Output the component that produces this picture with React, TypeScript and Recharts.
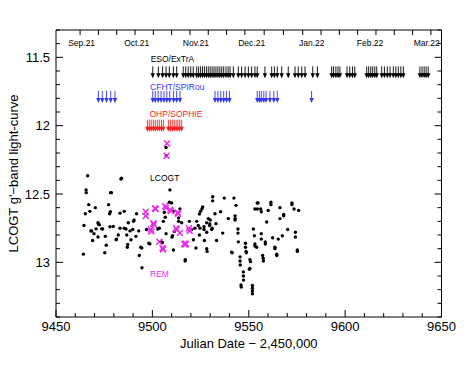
import React from 'react';
import { ScatterChart, Scatter, XAxis, YAxis, ReferenceArea } from 'recharts';

const W = 474;
const H = 366;
const PLOT = { left: 56, right: 441.5, top: 30, bottom: 317 };
const FONT = 'Liberation Sans, Arial, sans-serif';

// ── axis ticks ────────────────────────────────────────────────────────────────
const X_TICKS = [9450, 9460, 9470, 9480, 9490, 9500, 9510, 9520, 9530, 9540, 9550, 9560, 9570, 9580, 9590, 9600, 9610, 9620, 9630, 9640, 9650];
const X_LABELS = [9450, 9500, 9550, 9600, 9650];
const Y_TICKS = [11.3, 11.4, 11.5, 11.6, 11.7, 11.8, 11.9, 12, 12.1, 12.2, 12.3, 12.4, 12.5, 12.6, 12.7, 12.8, 12.9, 13, 13.1, 13.2, 13.3, 13.4];
const Y_LABELS = [11.5, 12, 12.5, 13];
const TOP_TICKS = [9462.5, 9472, 9481.5, 9491, 9500.5, 9510, 9519.5, 9529, 9538.5, 9548, 9558, 9568, 9578, 9587.5, 9597, 9606.5, 9616, 9625.5, 9635, 9644.5];
const MONTH_POS = [9463.3, 9491.9, 9522.6, 9551.5, 9582.7, 9612.9, 9642.3];
const MONTH_NAMES = ['Sep.21', 'Oct.21', 'Nov.21', 'Dec.21', 'Jan.22', 'Feb.22', 'Mar.22'];

// ── observation epochs (JD - 2,450,000) ───────────────────────────────────────
const ESO_JD = [
  9500.2, 9503.1, 9505.3, 9507.1, 9508.8, 9510.9, 9512.6,
  9516, 9517.3, 9518.6, 9519.9, 9521.2,
  9523, 9524, 9525, 9526, 9527, 9528, 9529, 9530, 9531, 9532, 9533, 9534, 9535, 9536, 9537, 9538.2, 9539.3, 9540.3,
  9542, 9544.6, 9546.3, 9548.1, 9549.8, 9551.5, 9553.2, 9554.4, 9558.4, 9561.9, 9563.3, 9564.8, 9567.1, 9570.5,
  9574, 9575.7, 9577.5, 9579.2, 9583.2, 9585.6,
  9593, 9594, 9595.2, 9596.3, 9597.3,
  9601, 9602.4, 9603.8, 9605,
  9611.2, 9612.2, 9613.3, 9614.3, 9615.4, 9616.4,
  9619, 9620.4, 9621.9, 9623.3,
  9625, 9626.3, 9627.6, 9628.9, 9630.2,
  9638.8, 9639.9, 9641, 9642, 9643.1,
];
const CFHT_JD = [
  9472, 9474, 9476.2, 9478.4, 9480.6,
  9500.2, 9501.5, 9503, 9504.5, 9506, 9507.5, 9509, 9511, 9512.6, 9514.3,
  9532.5, 9534, 9535.5, 9537, 9538.5, 9540,
  9554.4, 9555.5, 9556.5, 9557.8, 9559, 9561, 9563, 9564.8,
  9582.6,
];
const OHP_JD = [
  9497.4, 9498.4, 9499.4, 9500.5, 9501.5, 9502.6, 9503.6, 9504.7, 9505.7,
  9508.3, 9509.3, 9510.3, 9511.3, 9512.3, 9513.2, 9514.2, 9515.2,
];
const ESO_MAG = 11.61;
const CFHT_MAG = 11.79;
const OHP_MAG = 12.0;

// ── LCOGT g' photometry [jd, mag] ─────────────────────────────────────────────
const LCOGT: [number, number][] = [
  [9466.4, 12.366], [9465.6, 12.47], [9465.7, 12.49], [9467.0, 12.578], [9465.2, 12.644], [9467.6, 12.627],
  [9470.4, 12.6], [9464.5, 12.73], [9468.1, 12.77], [9468.5, 12.77], [9469.7, 12.79], [9469.0, 12.84],
  [9470.8, 12.755], [9471.8, 12.71], [9472.0, 12.72], [9472.5, 12.725], [9473.7, 12.755], [9471.8, 12.815],
  [9464.2, 12.94], [9478.3, 12.49], [9478.8, 12.49], [9477.3, 12.578], [9478.2, 12.63], [9477.8, 12.645],
  [9475.6, 12.81], [9476.1, 12.875], [9475.3, 12.93], [9474.2, 12.756], [9478.0, 12.74], [9479.7, 12.737],
  [9483.7, 12.39], [9484.0, 12.385], [9483.2, 12.64], [9485.4, 12.627], [9481.4, 12.83], [9481.2, 12.835],
  [9482.3, 12.8], [9483.2, 12.75], [9485.4, 12.75], [9486.3, 12.756], [9487.5, 12.71], [9486.7, 12.8],
  [9487.0, 12.89], [9487.2, 12.87], [9488.4, 12.77], [9488.9, 12.835], [9490.2, 12.7], [9490.5, 12.69],
  [9489.8, 12.76], [9491.8, 12.645], [9492.9, 12.77], [9493.2, 12.95], [9491.5, 12.81], [9494.0, 12.89],
  [9494.5, 12.895], [9494.6, 13.04], [9497.0, 12.76], [9498.2, 12.86], [9498.7, 12.865], [9502.8, 12.756],
  [9503.6, 12.75], [9504.6, 12.85], [9505.2, 12.855], [9505.7, 12.7], [9506.2, 12.635], [9506.7, 12.67],
  [9507.1, 12.16], [9507.2, 12.22], [9507.1, 12.79], [9509.1, 12.47], [9508.8, 12.56], [9510.0, 12.566],
  [9510.9, 12.627], [9510.9, 12.91], [9510.2, 12.815], [9510.5, 12.805], [9511.4, 12.775], [9513.6, 12.7],
  [9513.6, 12.675], [9514.3, 12.61], [9515.2, 12.71], [9517.1, 12.98], [9517.0, 12.99],
  [9519.2, 12.7], [9520.4, 12.76], [9521.3, 12.835], [9522.1, 12.75], [9522.6, 12.895], [9523.0, 12.7],
  [9523.8, 12.73], [9524.4, 12.646], [9524.4, 12.8], [9524.7, 12.75], [9525.0, 12.627], [9525.7, 12.61],
  [9526.1, 12.595], [9526.8, 12.74], [9526.8, 12.76], [9527.0, 12.84], [9528.2, 12.71], [9528.2, 12.78],
  [9528.2, 12.9], [9528.4, 12.92], [9529.0, 12.68], [9530.0, 12.69], [9529.8, 12.72], [9529.7, 12.73],
  [9530.8, 12.76], [9531.0, 12.75], [9531.3, 12.52], [9531.3, 12.55], [9532.5, 12.645], [9533.0, 12.717],
  [9533.3, 12.84], [9535.4, 12.63], [9536.5, 12.786], [9537.3, 12.53], [9539.4, 12.68], [9541.1, 12.925],
  [9541.4, 12.93], [9542.3, 12.53], [9542.9, 12.66], [9542.9, 12.68], [9542.9, 12.69], [9543.4, 12.583],
  [9544.4, 12.756], [9544.4, 12.786], [9544.6, 12.85], [9545.5, 12.96], [9545.5, 12.99], [9545.6, 13.02],
  [9546.0, 13.165], [9546.1, 13.18], [9547.2, 13.07], [9547.2, 13.1], [9547.3, 13.13], [9548.3, 12.86],
  [9548.3, 12.89], [9548.6, 12.92], [9548.8, 12.93], [9550.3, 13.05], [9550.6, 12.98], [9550.9, 12.995],
  [9550.6, 13.045], [9551.9, 13.17], [9551.9, 13.19], [9551.9, 13.21], [9551.9, 13.23], [9552.4, 12.756],
  [9552.9, 12.805], [9553.2, 12.865], [9553.2, 12.88], [9554.1, 12.89], [9554.4, 12.566], [9554.8, 12.565],
  [9553.2, 12.61], [9554.5, 12.61], [9556.2, 12.61], [9556.5, 12.63], [9556.5, 12.79], [9556.5, 12.83],
  [9557.2, 12.95], [9557.5, 12.97], [9557.6, 12.99], [9558.6, 12.85], [9558.6, 12.866], [9559.3, 12.705],
  [9560.1, 12.62], [9561.5, 12.56], [9561.5, 12.578], [9562.4, 12.82], [9563.6, 12.89], [9563.6, 12.9],
  [9564.5, 12.94], [9564.5, 12.95], [9565.3, 12.83], [9566.2, 12.6], [9566.2, 12.68], [9567.4, 12.805],
  [9568.1, 12.65], [9568.1, 12.66], [9570.2, 12.76], [9572.4, 12.566], [9572.4, 12.578], [9573.5, 12.61],
  [9574.2, 12.78], [9574.2, 12.815], [9575.2, 12.91], [9575.2, 12.92], [9575.9, 12.62],
];

// ── REM photometry [jd, mag] ──────────────────────────────────────────────────
const REM: [number, number][] = [
  [9507.6, 12.13], [9507.4, 12.22], [9496.5, 12.63], [9496.6, 12.66], [9501.4, 12.605], [9501.7, 12.61],
  [9506.6, 12.59], [9507.1, 12.6], [9509.3, 12.615], [9509.6, 12.625], [9513.1, 12.635], [9513.4, 12.645],
  [9500.5, 12.715], [9500.8, 12.725], [9499.2, 12.76], [9499.5, 12.775], [9503.6, 12.85], [9505.3, 12.895],
  [9505.6, 12.905], [9512.3, 12.75], [9512.6, 12.76], [9514.3, 12.786], [9516.6, 12.865], [9517.0, 12.87],
  [9517.4, 12.865], [9519.0, 12.75], [9519.3, 12.77],
];

// ── instrument labels ─────────────────────────────────────────────────────────
const NOTES = [
  { jd: 9499.1, mag: 11.512, text: 'ESO/ExTrA', color: '#000000' },
  { jd: 9498.8, mag: 11.715, text: 'CFHT/SPIRou', color: '#3434f4' },
  { jd: 9498.5, mag: 11.915, text: 'OHP/SOPHIE', color: '#f42424' },
  { jd: 9498.8, mag: 12.385, text: 'LCOGT', color: '#000000' },
  { jd: 9498.8, mag: 13.085, text: 'REM', color: '#e82ce8' },
];

const toPts = (rows: [number, number][]) => rows.map(([jd, mag]) => ({ jd, mag }));
const toRow = (jds: number[], mag: number) => jds.map((jd) => ({ jd, mag }));

const near = (a: number, b: number) => Math.abs(a - b) < 1e-6;

function YTick(props: any) {
  const { y, payload } = props;
  const v = payload.value as number;
  const major = Y_LABELS.some((l) => near(l, v));
  const len = major ? 7 : 4;
  return (
    <g>
      <line x1={PLOT.left} x2={PLOT.left + len} y1={y} y2={y} stroke="#000" />
      <line x1={PLOT.right - len} x2={PLOT.right} y1={y} y2={y} stroke="#000" />
      {major && (
        <text x={PLOT.left - 6} y={y} dy={4.5} textAnchor="end" fontSize={13} fontFamily={FONT} fill="#000">
          {String(v)}
        </text>
      )}
    </g>
  );
}

function XTick(props: any) {
  const { x, payload } = props;
  const v = payload.value as number;
  const major = X_LABELS.some((l) => near(l, v));
  const len = major ? 7 : 4;
  return (
    <g>
      <line x1={x} x2={x} y1={PLOT.bottom} y2={PLOT.bottom - len} stroke="#000" />
      {major && (
        <text x={x} y={PLOT.bottom + 14} textAnchor="middle" fontSize={13} fontFamily={FONT} fill="#000">
          {String(v)}
        </text>
      )}
    </g>
  );
}

function TopTick(props: any) {
  const { x, payload } = props;
  const v = payload.value as number;
  const m = MONTH_POS.findIndex((p) => near(p, v));
  if (m >= 0) {
    return (
      <text x={x} y={PLOT.top + 16} textAnchor="middle" fontSize={8.5} fontFamily={FONT} fill="#000">
        {MONTH_NAMES[m]}
      </text>
    );
  }
  return <line x1={x} x2={x} y1={PLOT.top} y2={PLOT.top + 5} stroke="#000" />;
}

function Dot(props: any) {
  const { cx, cy } = props;
  return <circle cx={cx} cy={cy} r={1.7} fill="#000" />;
}

function Cross(props: any) {
  const { cx, cy } = props;
  const s = 3;
  return (
    <g stroke="#e82ce8" strokeWidth={1.5}>
      <line x1={cx - s} y1={cy - s} x2={cx + s} y2={cy + s} />
      <line x1={cx - s} y1={cy + s} x2={cx + s} y2={cy - s} />
    </g>
  );
}

const arrow = (color: string) => (props: any) => {
  const { cx, cy } = props;
  return (
    <g>
      <line x1={cx} y1={cy - 6} x2={cx} y2={cy + 3} stroke={color} strokeWidth={0.9} />
      <polygon points={`${cx - 2.2},${cy + 1} ${cx + 2.2},${cy + 1} ${cx},${cy + 6}`} fill={color} />
    </g>
  );
};

function Note(props: any) {
  const { cx, cy, payload } = props;
  return (
    <text x={cx} y={cy} dy={3} fontSize={8.5} fontFamily={FONT} fill={payload.color}>
      {payload.text}
    </text>
  );
}

export default function App() {
  const topTicks = [...TOP_TICKS, ...MONTH_POS].sort((a, b) => a - b);
  return (
    <div style={{ position: 'absolute', left: 0, top: 0, width: W, height: H, background: '#fff' }}>
      <ScatterChart width={W} height={H} margin={{ top: PLOT.top - 1, right: W - PLOT.right, bottom: 0, left: 0 }}>
        <XAxis
          dataKey="jd"
          type="number"
          domain={[9450, 9650]}
          ticks={X_TICKS}
          interval={0}
          height={H - PLOT.bottom}
          axisLine={false}
          tickLine={false}
          tick={<XTick />}
          allowDataOverflow
          label={{ value: 'Julian Date − 2,450,000', position: 'insideBottom', offset: 18, fontSize: 13, fontFamily: FONT, fill: '#000' }}
        />
        <XAxis
          xAxisId="top"
          orientation="top"
          dataKey="jd"
          type="number"
          domain={[9450, 9650]}
          ticks={topTicks}
          interval={0}
          height={1}
          axisLine={false}
          tickLine={false}
          tick={<TopTick />}
          allowDataOverflow
        />
        <YAxis
          dataKey="mag"
          type="number"
          domain={[11.3, 13.4]}
          reversed
          ticks={Y_TICKS}
          interval={0}
          width={PLOT.left}
          axisLine={false}
          tickLine={false}
          tick={<YTick />}
          allowDataOverflow
          label={{ value: "LCOGT g'−band light-curve", angle: -90, position: 'insideLeft', offset: 13, fontSize: 13, fontFamily: FONT, fill: '#000', style: { textAnchor: 'middle' } }}
        />
        <ReferenceArea x1={9450} x2={9650} y1={11.3} y2={13.4} fill="none" stroke="#000" strokeWidth={1} ifOverflow="visible" />
        <Scatter data={toRow(ESO_JD, ESO_MAG)} shape={arrow('#000000')} isAnimationActive={false} />
        <Scatter data={toRow(CFHT_JD, CFHT_MAG)} shape={arrow('#3434f4')} isAnimationActive={false} />
        <Scatter data={toRow(OHP_JD, OHP_MAG)} shape={arrow('#f42424')} isAnimationActive={false} />
        <Scatter data={toPts(LCOGT)} shape={<Dot />} isAnimationActive={false} />
        <Scatter data={toPts(REM)} shape={<Cross />} isAnimationActive={false} />
        <Scatter xAxisId="top" data={NOTES} shape={<Note />} isAnimationActive={false} />
      </ScatterChart>
    </div>
  );
}
